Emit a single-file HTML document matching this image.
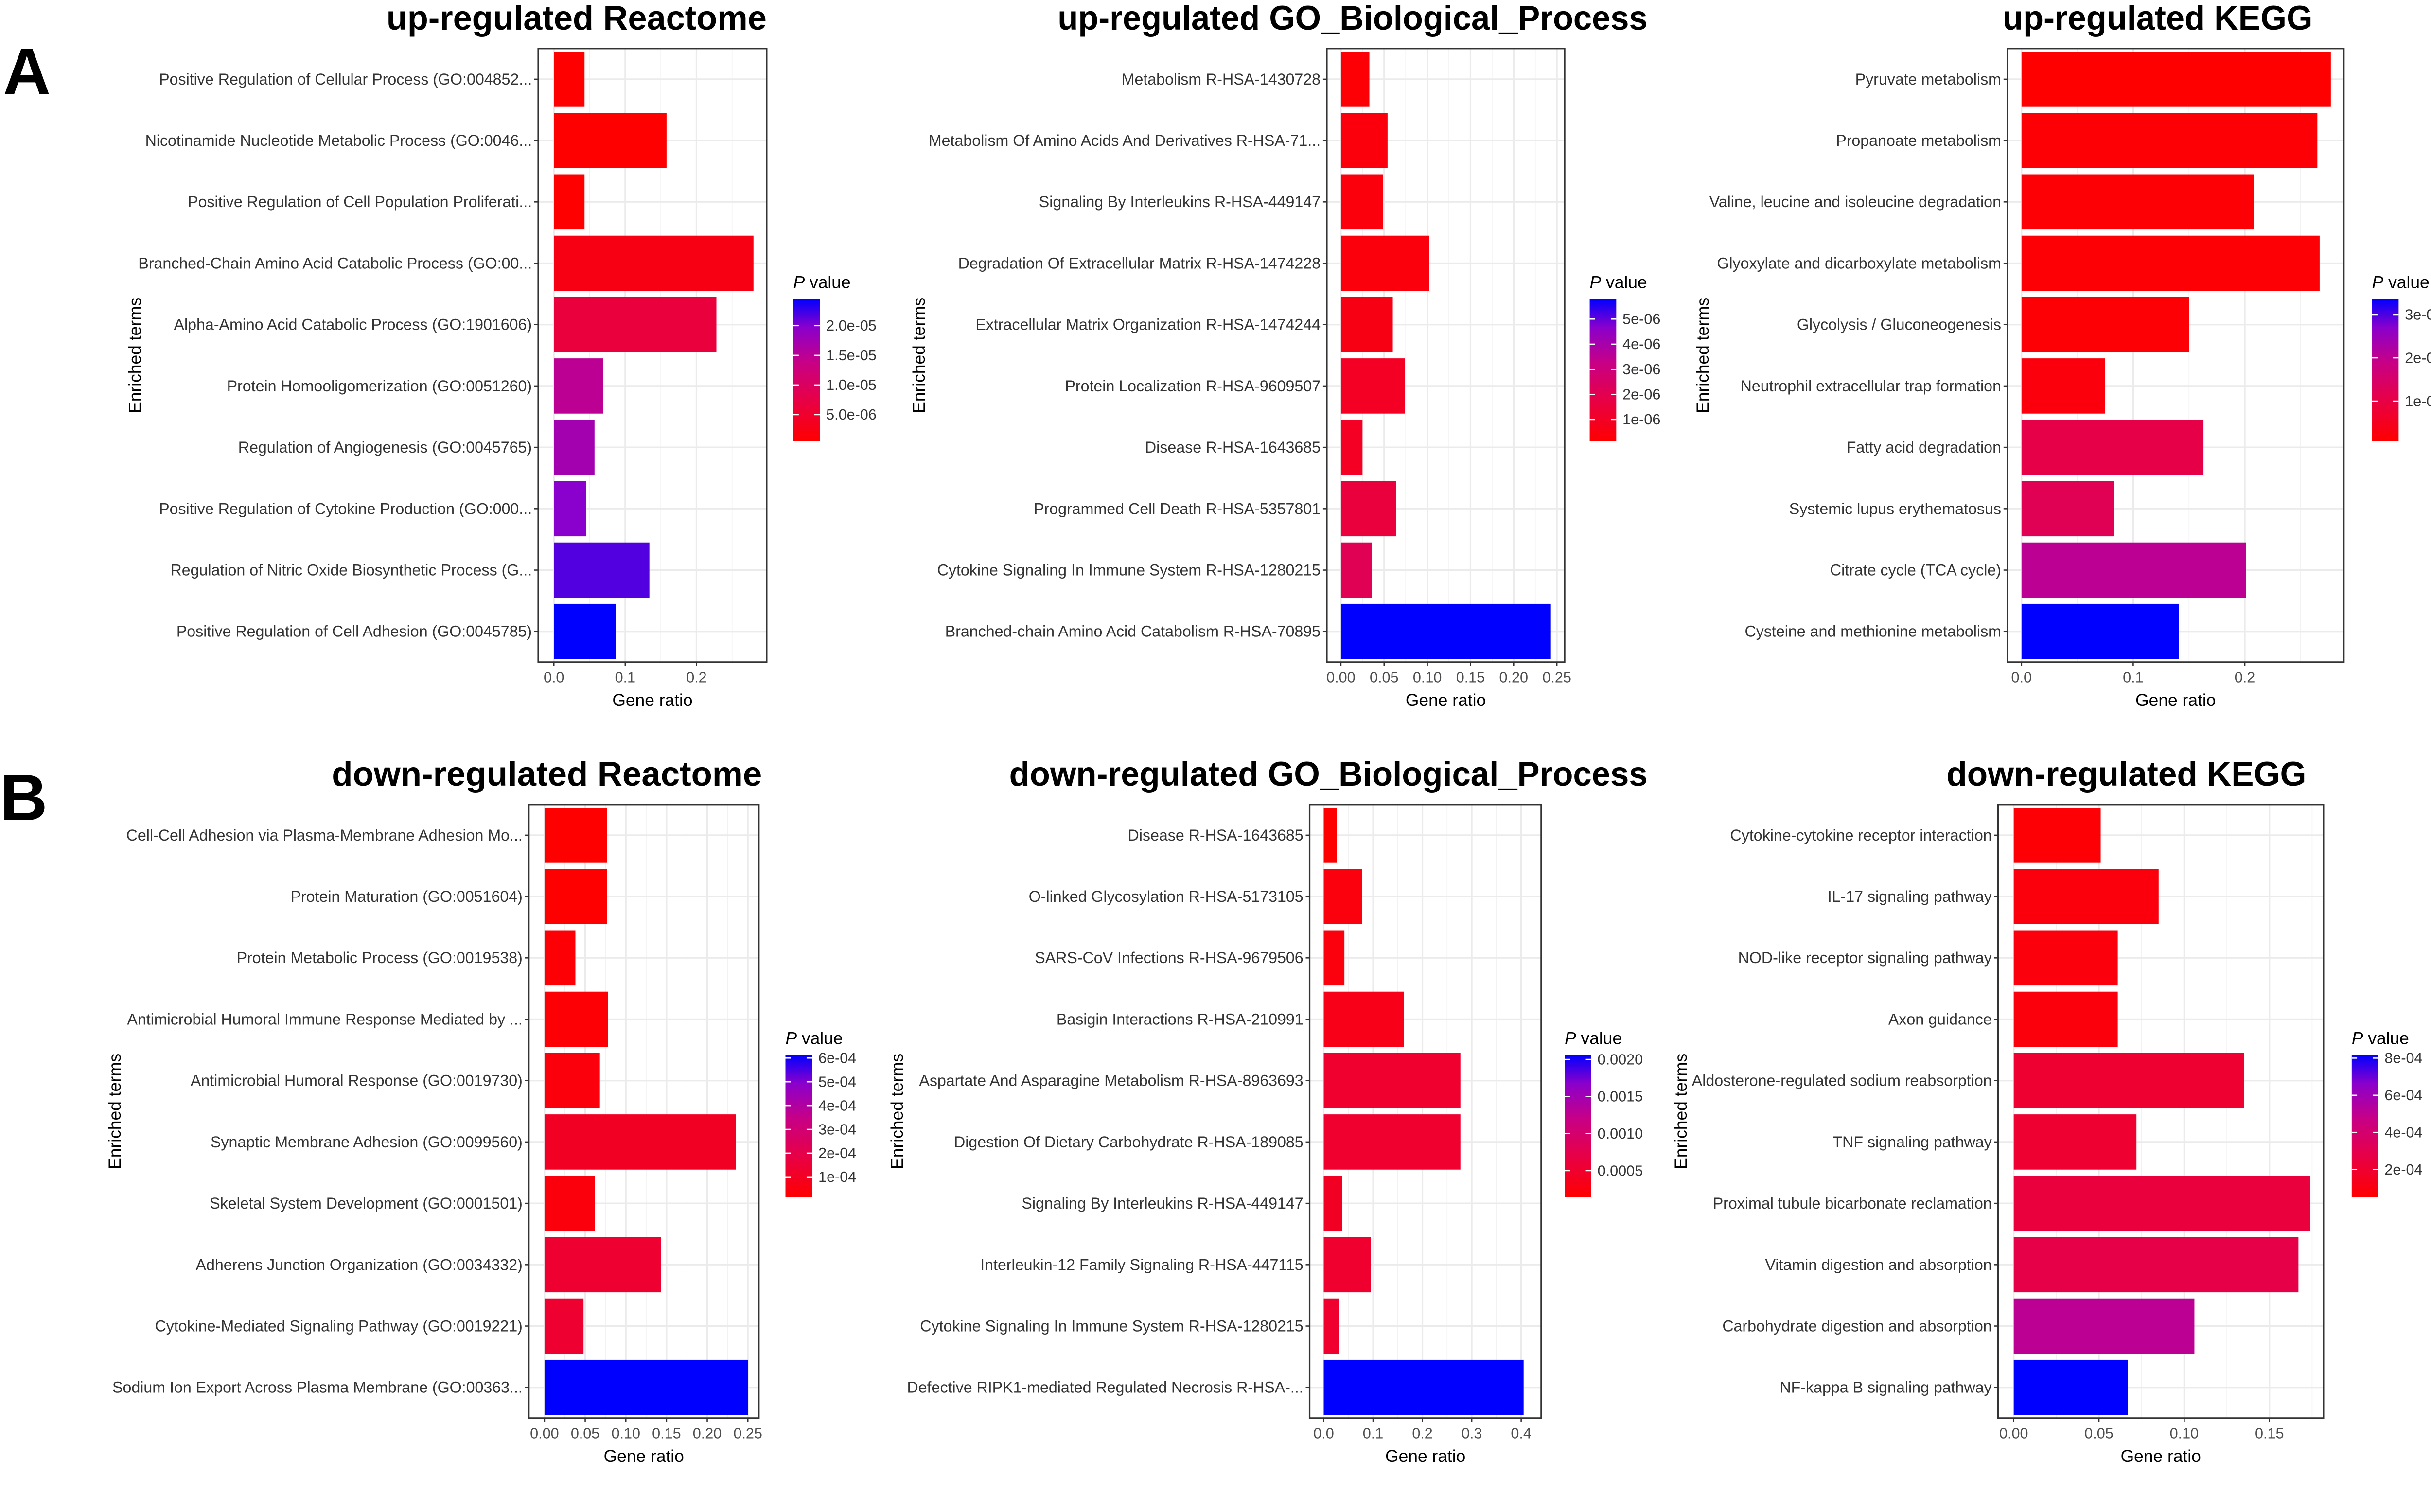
<!DOCTYPE html>
<html><head><meta charset="utf-8"><style>
html,body{margin:0;padding:0;background:#fff;}
svg{display:block;}
text{font-family:"Liberation Sans",sans-serif;}
.lbl{font-size:10px;fill:#333;}
.tick{font-size:9.5px;fill:#4d4d4d;}
.ttl{font-family:"Liberation Sans Narrow","Liberation Sans",sans-serif;font-weight:bold;font-size:22px;fill:#000;}
.axt{font-size:11px;fill:#000;}
</style></head>
<body>
<svg id="fig" width="5046" height="3110" viewBox="0 0 1568 966" preserveAspectRatio="none" xmlns="http://www.w3.org/2000/svg">
<defs>
<linearGradient id="pg" x1="0" y1="1" x2="0" y2="0">
<stop offset="0" stop-color="#FF0000"/><stop offset="0.3" stop-color="#E60048"/><stop offset="0.55" stop-color="#C80085"/><stop offset="0.8" stop-color="#8A00CC"/><stop offset="1" stop-color="#0000FF"/>
</linearGradient>
</defs>
<text x="2" y="60" style="font-family:'Liberation Sans Narrow','Liberation Sans',sans-serif;font-weight:bold;font-size:42px">A</text>
<text x="0" y="524" style="font-family:'Liberation Sans Narrow','Liberation Sans',sans-serif;font-weight:bold;font-size:42px">B</text>
</svg>
<script>
// ---- data ----
const p1Terms=["Positive Regulation of Cellular Process (GO:004852...","Nicotinamide Nucleotide Metabolic Process (GO:0046...","Positive Regulation of Cell Population Proliferati...","Branched-Chain Amino Acid Catabolic Process (GO:00...","Alpha-Amino Acid Catabolic Process (GO:1901606)","Protein Homooligomerization (GO:0051260)","Regulation of Angiogenesis (GO:0045765)","Positive Regulation of Cytokine Production (GO:000...","Regulation of Nitric Oxide Biosynthetic Process (G...","Positive Regulation of Cell Adhesion (GO:0045785)"];
const p1Ratio=[0.043,0.158,0.043,0.28,0.228,0.069,0.057,0.045,0.134,0.087];
const p1Pval=[0.5e-6,0.6e-6,0.6e-6,2.4e-6,6.5e-6,14.9e-6,17.3e-6,19.7e-6,21.6e-6,24.5e-6];
const p1XTicks=[0,0.1,0.2]; const p1XLabels=["0.0","0.1","0.2"];
const p1PTicks=[2.0e-5,1.5e-5,1.0e-5,5.0e-6]; const p1PLabels=["2.0e-05","1.5e-05","1.0e-05","5.0e-06"];

const p2Terms=["Metabolism R-HSA-1430728","Metabolism Of Amino Acids And Derivatives R-HSA-71...","Signaling By Interleukins R-HSA-449147","Degradation Of Extracellular Matrix R-HSA-1474228","Extracellular Matrix Organization R-HSA-1474244","Protein Localization R-HSA-9609507","Disease R-HSA-1643685","Programmed Cell Death R-HSA-5357801","Cytokine Signaling In Immune System R-HSA-1280215","Branched-chain Amino Acid Catabolism R-HSA-70895"];
const p2Ratio=[0.033,0.054,0.049,0.102,0.060,0.074,0.025,0.064,0.036,0.243];
const p2Pval=[0.24e-6,0.41e-6,0.41e-6,0.41e-6,0.58e-6,0.98e-6,0.98e-6,1.55e-6,2.11e-6,5.8e-6];
const p2XTicks=[0,0.05,0.10,0.15,0.20,0.25]; const p2XLabels=["0.00","0.05","0.10","0.15","0.20","0.25"];
const p2PTicks=[5e-6,4e-6,3e-6,2e-6,1e-6]; const p2PLabels=["5e-06","4e-06","3e-06","2e-06","1e-06"];

const p3Terms=["Pyruvate metabolism","Propanoate metabolism","Valine, leucine and isoleucine degradation","Glyoxylate and dicarboxylate metabolism","Glycolysis / Gluconeogenesis","Neutrophil extracellular trap formation","Fatty acid degradation","Systemic lupus erythematosus","Citrate cycle (TCA cycle)","Cysteine and methionine metabolism"];
const p3Ratio=[0.277,0.265,0.208,0.267,0.150,0.075,0.163,0.083,0.201,0.141];
const p3Pval=[0.07e-6,0.14e-6,0.14e-6,0.14e-6,0.14e-6,0.23e-6,1.06e-6,1.22e-6,2.04e-6,3.36e-6];
const p3XTicks=[0,0.1,0.2]; const p3XLabels=["0.0","0.1","0.2"];
const p3PTicks=[3e-6,2e-6,1e-6]; const p3PLabels=["3e-06","2e-06","1e-06"];

const p4Terms=["Cell-Cell Adhesion via Plasma-Membrane Adhesion Mo...","Protein Maturation (GO:0051604)","Protein Metabolic Process (GO:0019538)","Antimicrobial Humoral Immune Response Mediated by ...","Antimicrobial Humoral Response (GO:0019730)","Synaptic Membrane Adhesion (GO:0099560)","Skeletal System Development (GO:0001501)","Adherens Junction Organization (GO:0034332)","Cytokine-Mediated Signaling Pathway (GO:0019221)","Sodium Ion Export Across Plasma Membrane (GO:00363..."];
const p4Ratio=[0.077,0.077,0.038,0.078,0.068,0.235,0.062,0.143,0.048,0.25];
const p4Pval=[0.14e-4,0.14e-4,0.26e-4,0.26e-4,0.44e-4,1.04e-4,0.44e-4,1.34e-4,1.34e-4,6.13e-4];
const p4XTicks=[0,0.05,0.10,0.15,0.20,0.25]; const p4XLabels=["0.00","0.05","0.10","0.15","0.20","0.25"];
const p4PTicks=[6e-4,5e-4,4e-4,3e-4,2e-4,1e-4]; const p4PLabels=["6e-04","5e-04","4e-04","3e-04","2e-04","1e-04"];

const p5Terms=["Disease R-HSA-1643685","O-linked Glycosylation R-HSA-5173105","SARS-CoV Infections R-HSA-9679506","Basigin Interactions R-HSA-210991","Aspartate And Asparagine Metabolism R-HSA-8963693","Digestion Of Dietary Carbohydrate R-HSA-189085","Signaling By Interleukins R-HSA-449147","Interleukin-12 Family Signaling R-HSA-447115","Cytokine Signaling In Immune System R-HSA-1280215","Defective RIPK1-mediated Regulated Necrosis R-HSA-..."];
const p5Ratio=[0.027,0.078,0.042,0.162,0.277,0.277,0.037,0.096,0.032,0.405];
const p5Pval=[1.4e-4,2.4e-4,2.4e-4,3.3e-4,5.2e-4,5.2e-4,4.3e-4,5.2e-4,5.2e-4,20.6e-4];
const p5XTicks=[0,0.1,0.2,0.3,0.4]; const p5XLabels=["0.0","0.1","0.2","0.3","0.4"];
const p5PTicks=[0.0020,0.0015,0.0010,0.0005]; const p5PLabels=["0.0020","0.0015","0.0010","0.0005"];

const p6Terms=["Cytokine-cytokine receptor interaction","IL-17 signaling pathway","NOD-like receptor signaling pathway","Axon guidance","Aldosterone-regulated sodium reabsorption","TNF signaling pathway","Proximal tubule bicarbonate reclamation","Vitamin digestion and absorption","Carbohydrate digestion and absorption","NF-kappa B signaling pathway"];
const p6Ratio=[0.051,0.085,0.061,0.061,0.135,0.072,0.174,0.167,0.106,0.067];
const p6Pval=[0.65e-4,0.88e-4,0.88e-4,0.88e-4,2.03e-4,2.03e-4,2.42e-4,2.8e-4,5.1e-4,8.17e-4];
const p6XTicks=[0,0.05,0.10,0.15]; const p6XLabels=["0.00","0.05","0.10","0.15"];
const p6PTicks=[8e-4,6e-4,4e-4,2e-4]; const p6PLabels=["8e-04","6e-04","4e-04","2e-04"];

// ---- layout (not data) ----
const panels=[
 {id:"up-reactome",title:"up-regulated Reactome",tx:247,tw:243,terms:p1Terms,ratio:p1Ratio,pval:p1Pval,xt:p1XTicks,xl:p1XLabels,pt:p1PTicks,pl:p1PLabels,x0:344,x1:490,zero:354,xmax:0.2985,top:31,bot:423,ylab:90,leg:507,plo:0.5e-6,phi:24.5e-6},
 {id:"up-go",title:"up-regulated GO_Biological_Process",tx:676,tw:377,terms:p2Terms,ratio:p2Ratio,pval:p2Pval,xt:p2XTicks,xl:p2XLabels,pt:p2PTicks,pl:p2PLabels,x0:848,x1:1000,zero:857,xmax:0.259,top:31,bot:423,ylab:591,leg:1016,plo:0.13e-6,phi:5.8e-6},
 {id:"up-kegg",title:"up-regulated KEGG",tx:1280,tw:198,terms:p3Terms,ratio:p3Ratio,pval:p3Pval,xt:p3XTicks,xl:p3XLabels,pt:p3PTicks,pl:p3PLabels,x0:1283,x1:1498,zero:1292,xmax:0.2887,top:31,bot:423,ylab:1092,leg:1516,plo:0.07e-6,phi:3.36e-6},
 {id:"down-reactome",title:"down-regulated Reactome",tx:212,tw:275,terms:p4Terms,ratio:p4Ratio,pval:p4Pval,xt:p4XTicks,xl:p4XLabels,pt:p4PTicks,pl:p4PLabels,x0:338,x1:485,zero:348,xmax:0.2635,top:514,bot:906,ylab:77,leg:502,plo:0.14e-4,phi:6.13e-4},
 {id:"down-go",title:"down-regulated GO_Biological_Process",tx:645,tw:408,terms:p5Terms,ratio:p5Ratio,pval:p5Pval,xt:p5XTicks,xl:p5XLabels,pt:p5PTicks,pl:p5PLabels,x0:837,x1:985,zero:846,xmax:0.4406,top:514,bot:906,ylab:577,leg:1000,plo:1.4e-4,phi:20.6e-4},
 {id:"down-kegg",title:"down-regulated KEGG",tx:1244,tw:230,terms:p6Terms,ratio:p6Ratio,pval:p6Pval,xt:p6XTicks,xl:p6XLabels,pt:p6PTicks,pl:p6PLabels,x0:1277,x1:1485,zero:1287,xmax:0.1817,top:514,bot:906,ylab:1078,leg:1503,plo:0.5e-4,phi:8.17e-4}
];
const NS="http://www.w3.org/2000/svg";
const svg=document.getElementById("fig");
function mk(tag,attrs,parent){const e=document.createElementNS(NS,tag);for(const k in attrs)e.setAttribute(k,attrs[k]);(parent||svg).appendChild(e);return e;}
const stops=[[0,[255,0,0]],[0.3,[230,0,72]],[0.55,[200,0,133]],[0.8,[138,0,204]],[1,[0,0,255]]];
function col(t){t=Math.max(0,Math.min(1,t));for(let i=1;i<stops.length;i++){if(t<=stops[i][0]){const a=stops[i-1],b=stops[i];const f=(t-a[0])/(b[0]-a[0]);const c=a[1].map((v,j)=>Math.round(v+(b[1][j]-v)*f));return `rgb(${c.join(",")})`;}}return "rgb(0,0,255)";}

panels.forEach(p=>{
  const g=mk("g",{});
  
  
  const n=p.terms.length;
  const pxPerUnit=(p.x1-p.zero)/p.xmax;
  const xs=v=>p.zero+v*pxPerUnit;
  const rowH=(p.bot-p.top)/n;
  const ys=i=>p.top+rowH*(i+0.5);
  const t=mk("text",{x:p.tx,y:p.top-12,class:"ttl",textLength:p.tw,lengthAdjust:"spacingAndGlyphs"},g);
  t.textContent=p.title;
  
  
  const step=p.xt[1]-p.xt[0];
  for(let v=step/2; v<p.xmax; v+=step){mk("line",{x1:xs(v),x2:xs(v),y1:p.top,y2:p.bot,stroke:"#F2F2F2","stroke-width":0.5},g);}
  p.xt.forEach(v=>mk("line",{x1:xs(v),x2:xs(v),y1:p.top,y2:p.bot,stroke:"#EBEBEB","stroke-width":1},g));
  for(let i=0;i<n;i++) mk("line",{x1:p.x0,x2:p.x1,y1:ys(i),y2:ys(i),stroke:"#EBEBEB","stroke-width":1},g);
  p.ratio.forEach((r,i)=>{
    const b=mk("rect",{x:xs(0),y:ys(i)-rowH*0.45,width:xs(r)-xs(0),height:rowH*0.9,fill:col((p.pval[i]-p.plo)/(p.phi-p.plo))},g);
    
    
    const l=mk("text",{x:p.x0-4,y:ys(i)+3.4,class:"lbl","text-anchor":"end"},g);
    l.textContent=p.terms[i];
    
    
    mk("line",{x1:p.x0-2.5,x2:p.x0,y1:ys(i),y2:ys(i),stroke:"#333","stroke-width":0.8},g);
  });
  mk("rect",{x:p.x0,y:p.top,width:p.x1-p.x0,height:p.bot-p.top,fill:"none",stroke:"#333","stroke-width":1},g);
  p.xt.forEach((v,i)=>{
    mk("line",{x1:xs(v),x2:xs(v),y1:p.bot,y2:p.bot+2.5,stroke:"#333","stroke-width":0.8},g);
    const tl=mk("text",{x:xs(v),y:p.bot+13,class:"tick","text-anchor":"middle"},g);
    tl.textContent=p.xl[i];
    
    
  });
  const xa=mk("text",{x:(p.x0+p.x1)/2,y:p.bot+28,class:"axt","text-anchor":"middle"},g);
  xa.textContent="Gene ratio";
  
  
  const ya=mk("text",{x:0,y:0,class:"axt","text-anchor":"middle",transform:`translate(${p.ylab},${(p.top+p.bot)/2}) rotate(-90)`},g);
  ya.textContent="Enriched terms";
  
  
  const lt=p.top+160, lb=p.top+251;
  const lg=mk("g",{},g);
  
  
  const lh=mk("text",{x:p.leg,y:lt-7,class:"axt"},lg);
  lh.innerHTML='<tspan font-style="italic">P</tspan> value';
  mk("rect",{x:p.leg,y:lt,width:17,height:lb-lt,fill:"url(#pg)"},lg);
  const ly=v=>lb-(v-p.plo)/(p.phi-p.plo)*(lb-lt);
  p.pt.forEach((v,i)=>{
    mk("line",{x1:p.leg,x2:p.leg+3.5,y1:ly(v),y2:ly(v),stroke:"#fff","stroke-width":0.8},lg);
    mk("line",{x1:p.leg+13.5,x2:p.leg+17,y1:ly(v),y2:ly(v),stroke:"#fff","stroke-width":0.8},lg);
    const tl=mk("text",{x:p.leg+21,y:ly(v)+3.2,class:"tick",style:"fill:#333"},lg);
    tl.textContent=p.pl[i];
    
    
  });
});
</script>
</body></html>
